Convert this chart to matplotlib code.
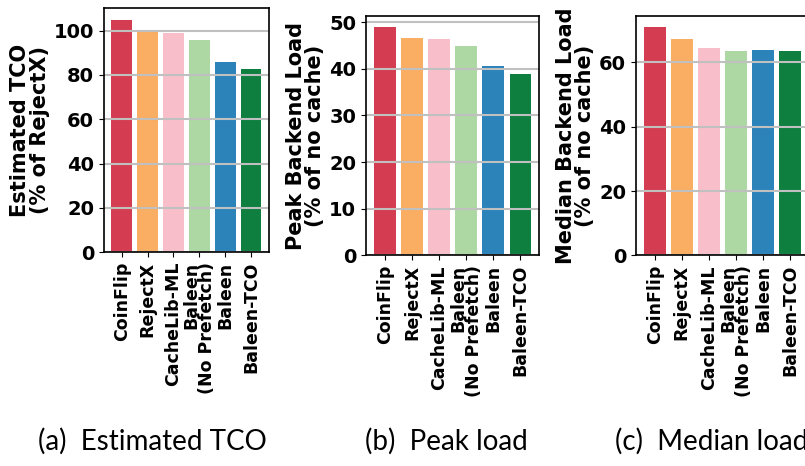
import numpy as np
import matplotlib
matplotlib.use("Agg")
from matplotlib import pyplot as plt

# data
systems = ["CoinFlip", "RejectX", "CacheLib-ML", "Baleen\n(No Prefetch)", "Baleen", "Baleen-TCO"]
colors = ["#d43d51", "#f9ae63", "#f8bfcb", "#aed8a3", "#2b83ba", "#0f7f3f"]

tco = [105.0, 100.0, 98.8, 95.6, 85.7, 82.5]
peak_load = [48.9, 46.5, 46.3, 44.8, 40.5, 38.8]
median_load = [70.9, 67.3, 64.5, 63.5, 63.8, 63.5]

panels = [
    (tco, "Estimated TCO\n(% of RejectX)", [0, 20, 40, 60, 80, 100], "(a)  Estimated TCO"),
    (peak_load, "Peak Backend Load\n(% of no cache)", [0, 10, 20, 30, 40, 50], "(b)  Peak load"),
    (median_load, "Median Backend Load\n(% of no cache)", [0, 20, 40, 60], "(c)  Median load"),
]

# axes rectangles [left, bottom, width, height] in figure coords
rects = [
    [0.129, 0.459, 0.205, 0.524],
    [0.4547, 0.452, 0.215, 0.514],
    [0.790, 0.452, 0.215, 0.514],
]
caption_x = [152, 446, 712]

fig = plt.figure(figsize=(8.05, 4.66), dpi=100)

for (vals, ylab, yt, cap), rect, cx in zip(panels, rects, caption_x):
    ax = fig.add_axes(rect)
    x = np.arange(len(systems))
    ax.bar(x, vals, width=0.8, color=colors)
    ax.set_ylim(0, max(vals) * 1.05)
    ax.set_yticks(yt)
    ax.set_yticklabels([str(v) for v in yt], fontsize=14, fontweight="bold")
    ax.set_xticks(x)
    ax.set_xticklabels(systems, rotation=90, fontsize=12.5, fontweight="bold",
                       multialignment="right", linespacing=0.85)
    ax.set_ylabel(ylab, fontsize=15, fontweight="bold", linespacing=0.95, labelpad=3)
    ax.yaxis.grid(True, color="#c0c0c0", linewidth=1.5)
    for s in ax.spines.values():
        s.set_linewidth(1.2)
    fig.text(cx / 805, 1 - 441 / 466, cap, ha="center", va="center",
             fontsize=20, family=["Lato", "DejaVu Sans"])

plt.savefig("out.png", dpi=100)
